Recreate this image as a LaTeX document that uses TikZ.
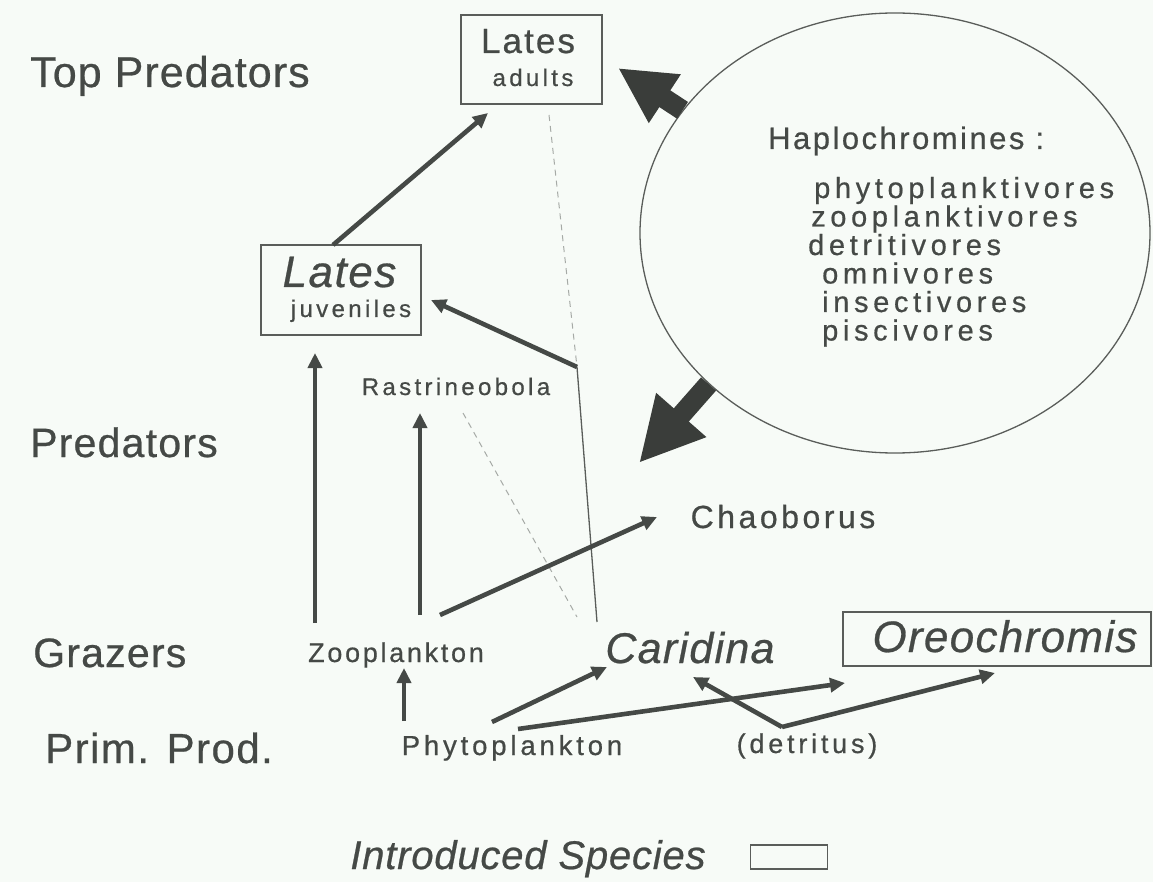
\documentclass[tikz,border=0pt]{standalone}
\usepackage{fontspec}
\setmainfont{Liberation Sans}[FakeBold=0.6]
\usetikzlibrary{arrows.meta,shapes.geometric}
\definecolor{bg}{HTML}{F7FBF7}
\definecolor{ink}{HTML}{454946}
\definecolor{dark}{HTML}{3A3D3A}
\definecolor{thinc}{HTML}{5A5D5A}
\definecolor{dashc}{HTML}{A6AAA6}
\newcommand\TX[2]{\fontsize{#1}{#1}\selectfont\addfontfeature{LetterSpace=#2,FakeBold=0.6}}
\tikzset{
  lbl/.style={inner sep=0pt, anchor=base, text=ink},
  lblw/.style={inner sep=0pt, anchor=base west, text=ink},
  boxs/.style={draw=thinc, line width=1.3pt, inner sep=0pt},
  arr/.style={draw=ink, line width=4.6pt, -{Triangle[length=15pt,width=14pt]}},
  bigarr/.style={draw=dark, line width=20pt},
  dsh/.style={draw=dashc, line width=1pt, dash pattern=on 6pt off 5pt},
  thn/.style={draw=thinc, line width=1.3pt}
}
\begin{document}
\begin{tikzpicture}[x=1pt,y=-1pt]
\fill[bg] (0,0) rectangle (1153,882);
\useasboundingbox (0,0) rectangle (1153,882);

% trophic level labels
\node[lblw,font=\TX{43}{2.5}] (top) at (30,87) {Top Predators};
\node[lblw,font=\TX{41}{3}] (pred) at (30,457) {Predators};
\node[lblw,font=\TX{41}{3}] (graz) at (33,667) {Grazers};
\node[lblw,font=\TX{42}{3.5}] (prim) at (45,763) {Prim. Prod.};

% Lates adults
\node[boxs, minimum width=141pt, minimum height=89pt] (ad) at (531.5,59.5) {};
\node[lbl,font=\TX{35}{6}] (adL) at (528,53) {Lates};
\node[lbl,font=\TX{24}{14}] (adS) at (533,86) {adults};

% Lates juveniles
\node[boxs, minimum width=160pt, minimum height=90pt] (juv) at (341,290) {};
\node[lbl,font=\itshape\TX{44}{3.5}] (juvL) at (339.5,287) {Lates};
\node[lbl,font=\TX{24}{14}] (juvS) at (351,317) {juveniles};

% other species
\node[lbl,font=\TX{24}{14}] (rast) at (456,395) {Rastrineobola};
\node[lbl,font=\TX{32}{11}] (chao) at (783,528) {Chaoborus};
\node[lbl,font=\TX{27}{10}] (zoo) at (396,662) {Zooplankton};
\node[lbl,font=\TX{27.5}{14}] (phy) at (512,755) {Phytoplankton};
\node[lbl,font=\itshape\TX{43}{3}] (car) at (690,663) {Caridina};
\node[boxs, minimum width=308pt, minimum height=54pt] (oreoB) at (997,639) {};
\node[lbl,font=\itshape\TX{44}{3}] (oreo) at (1005,652) {Oreochromis};
\node[lbl,font=\TX{27}{14}] (det) at (807,753) {(detritus)};

% Haplochromines ellipse
\node[draw=thinc, line width=1.3pt, ellipse, minimum width=510pt, minimum height=440pt, inner sep=0pt] (hapE) at (895,233) {};
\node[lblw,font=\TX{31}{8}] (hap) at (768,149) {Haplochromines :};
\node[lblw,font=\TX{29}{16}] (h1) at (814,198) {phytoplanktivores};
\node[lblw,font=\TX{29}{16}] (h2) at (811,226.5) {zooplanktivores};
\node[lblw,font=\TX{29}{16}] (h3) at (808,255) {detritivores};
\node[lblw,font=\TX{29}{16}] (h4) at (822,283.5) {omnivores};
\node[lblw,font=\TX{29}{16}] (h5) at (822,312) {insectivores};
\node[lblw,font=\TX{29}{16}] (h6) at (822,340.5) {piscivores};

% legend
\node[lbl,font=\itshape\TX{40}{2}] (intro) at (528,869) {Introduced Species};
\node[boxs, minimum width=77pt, minimum height=24pt] (legB) at (789,857) {};

% connector end points
\coordinate (juvT) at (333,245);
\coordinate (adIn) at (488,113);
\coordinate (J1) at (577,367);
\coordinate (juvIn) at (431,300);
\coordinate (adDash) at (549,115);
\coordinate (carTop) at (597,622);
\coordinate (rastDash) at (463,413);
\coordinate (carDash) at (577,617);
\coordinate (zooL) at (315,623);
\coordinate (juvB) at (315,353);
\coordinate (zooM) at (420,615);
\coordinate (rastB) at (420,413);
\coordinate (zooR) at (440,615);
\coordinate (chaoIn) at (657,517);
\coordinate (phyT) at (404,721);
\coordinate (zooB) at (404,668);
\coordinate (phyA) at (492,722);
\coordinate (carIn) at (607,667);
\coordinate (phyB) at (518,729);
\coordinate (oreoIn) at (845,683);
\coordinate (J2) at (782,727);
\coordinate (carIn2) at (693,677);
\coordinate (oreoIn2) at (995,673);
\coordinate (adTip) at (618,68);
\coordinate (predTip) at (639,463);

% big arrows from the haplochromines
\draw[bigarr, -{Triangle[length=56pt,width=54pt]}] (hapE.150) -- (adTip);
\draw[bigarr, -{Triangle[length=64pt,width=62pt]}] (hapE.219) -- (predTip);

% thin and dashed links
\draw[dsh] (adDash) -- (J1);
\draw[thn] (J1) -- (carTop);
\draw[dsh] (rastDash) -- (carDash);

% feeding arrows
\draw[arr] (juvT) -- (adIn);
\draw[arr] (J1) -- (juvIn);
\draw[arr] (zooL) -- (juvB);
\draw[arr] (zooM) -- (rastB);
\draw[arr] (zooR) -- (chaoIn);
\draw[arr] (phyT) -- (zooB);
\draw[arr] (phyA) -- (carIn);
\draw[arr] (phyB) -- (oreoIn);
\draw[arr] (J2) -- (carIn2);
\draw[arr] (J2) -- (oreoIn2);
\end{tikzpicture}
\end{document}
